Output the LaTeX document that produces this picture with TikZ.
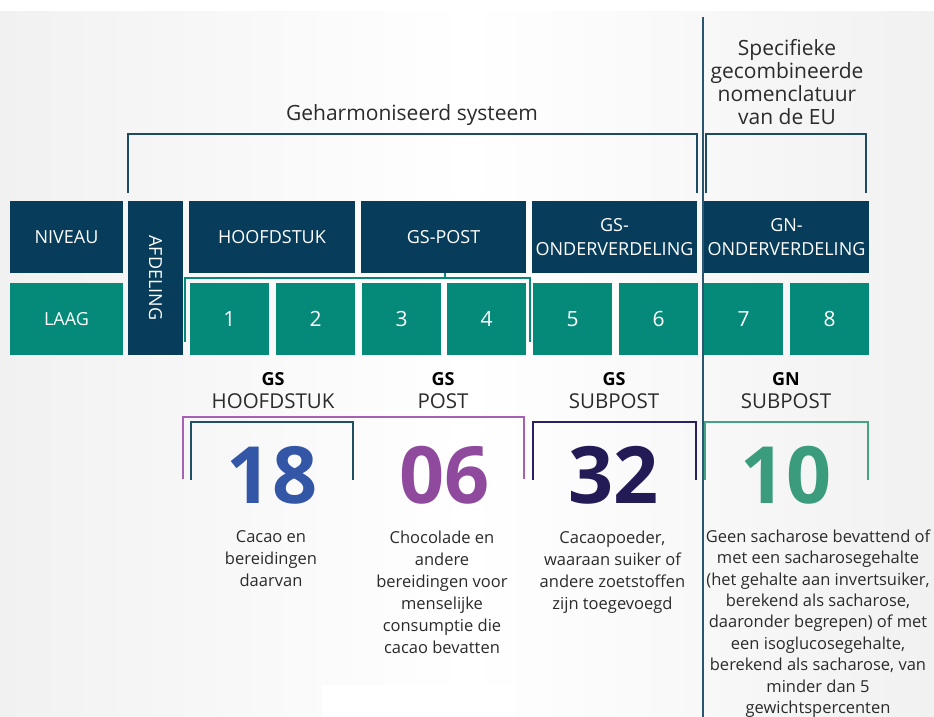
\documentclass[tikz,border=0pt]{standalone}
\usepackage{fontspec}
\setmainfont{Open Sans}
\definecolor{navy}{HTML}{073C5A}
\definecolor{teal}{HTML}{058A7A}
\definecolor{bgl}{HTML}{F1F1F1}
\definecolor{txt}{HTML}{2B2B2B}
\definecolor{divc}{HTML}{2B5670}
\definecolor{brk}{HTML}{1F4A63}
\definecolor{purp}{HTML}{A660B4}
\definecolor{dtl}{HTML}{1F5066}
\definecolor{indg}{HTML}{2A2160}
\definecolor{grn}{HTML}{45A385}
\definecolor{nA}{HTML}{3456A6}
\definecolor{nB}{HTML}{8F4A9D}
\definecolor{nC}{HTML}{221B56}
\definecolor{nD}{HTML}{3A9B7D}
\begin{document}
\begin{tikzpicture}[x=1pt,y=-1pt,
  cell/.style={minimum height=72pt, inner sep=0pt, text=white, align=center,
    font=\fontsize{18}{24}\selectfont},
  navybox/.style={cell, fill=navy},
  tealbox/.style={cell, fill=teal},
  numbox/.style={tealbox, minimum width=79pt, font=\fontsize{21}{24}\selectfont},
  gslab/.style={inner sep=0pt, font=\fontsize{18}{20}\selectfont\bfseries, text=black},
  kindlab/.style={inner sep=0pt, font=\fontsize{20.5}{24}\selectfont, text=txt},
  bignum/.style={inner sep=0pt, font=\fontsize{79}{82}\selectfont\bfseries},
  desc/.style={inner sep=0pt, anchor=north, align=center, text=txt,
    font=\fontsize{16.5}{22}\selectfont},
  headtxt/.style={inner sep=0pt, align=center, text=txt,
    font=\fontsize{21}{23}\selectfont},
  brack/.style={line width=2.5pt}
]
\useasboundingbox (0,0) rectangle (934,717);
\fill[white] (0,0) rectangle (934,717);
\shade[left color=bgl, right color=bgl, middle color=white] (0,12) rectangle (934,717);
\fill[white] (322,685) rectangle (515,717);

% headings
\node[headtxt, anchor=base] (hs) at (412,120) {Geharmoniseerd systeem};
\node[headtxt, anchor=north] (gn) at (787,39) {Specifieke\\gecombineerde\\nomenclatuur\\van de EU};

% top brackets
\draw[brack, brk] (128,193) -- (128,134) -- (697,134) -- (697,193);
\draw[brack, brk] (706,193) -- (706,134) -- (866,134) -- (866,193);

% row 1
\node[navybox, minimum width=113pt] (niveau) at (66.5,237) {NIVEAU};
\node[navybox, minimum width=55pt, minimum height=154pt] (afd) at (155.5,278) {};
\node[text=white, rotate=-90, inner sep=0pt, font=\fontsize{18}{20}\selectfont] (afdt) at (afd.center) {AFDELING};
\node[navybox, minimum width=166pt] (hfd) at (272,237) {HOOFDSTUK};
\node[navybox, minimum width=165pt] (gspost) at (443.5,237) {GS-POST};
\node[navybox, minimum width=165pt] (gsond) at (614.5,237) {GS-\\ONDERVERDELING};
\node[navybox, minimum width=165pt] (gnond) at (786.5,237) {GN-\\ONDERVERDELING};

% row 2
\node[tealbox, minimum width=113pt] (laag) at (66.5,319) {LAAG};
\node[numbox] (n1) at (229.5,319) {1};
\node[numbox] (n2) at (315.5,319) {2};
\node[numbox] (n3) at (401.5,319) {3};
\node[numbox] (n4) at (486.5,319) {4};
\node[numbox] (n5) at (572.5,319) {5};
\node[numbox] (n6) at (658.5,319) {6};
\node[numbox] (n7) at (743.5,319) {7};
\node[numbox] (n8) at (829.5,319) {8};

% teal bracket over 1-4
\draw[line width=2pt, teal] (185,342) -- (185,278) -- (530,278) -- (530,342);
\draw[line width=2pt, teal] (445,273) -- (445,278);

% divider
\draw[line width=2.5pt, divc] (703,17) -- (703,717);

% labels
\node[gslab] (g1) at (273,379) {GS};
\node[kindlab] (k1) at (273,401) {HOOFDSTUK};
\node[gslab] (g2) at (443,379) {GS};
\node[kindlab] (k2) at (443,401) {POST};
\node[gslab] (g3) at (614,379) {GS};
\node[kindlab] (k3) at (614,401) {SUBPOST};
\node[gslab] (g4) at (786,379) {GN};
\node[kindlab] (k4) at (786,401) {SUBPOST};

% number brackets
\draw[brack, purp] (183,479) -- (183,417) -- (524,417) -- (524,479);
\draw[brack, dtl] (191,480) -- (191,422) -- (353,422) -- (353,480);
\draw[brack, indg] (533,480) -- (533,422) -- (696,422) -- (696,480);
\draw[brack, grn] (705,480) -- (705,422) -- (868,422) -- (868,480);

% big numbers
\node[bignum, text=nA] (b1) at (272,475.5) {18};
\node[bignum, text=nB] (b2) at (444.5,475.5) {06};
\node[bignum, text=nC] (b3) at (613.5,475.5) {32};
\node[bignum, text=nD] (b4) at (786,475.5) {10};

% descriptions
\node[desc] (d1) at (271,530.5) {Cacao en\\bereidingen\\daarvan};
\node[desc] (d2) at (442,530.5) {Chocolade en\\andere\\bereidingen voor\\menselijke\\consumptie die\\cacao bevatten};
\node[desc] (d3) at (612.5,530.5) {Cacaopoeder,\\waaraan suiker of\\andere zoetstoffen\\zijn toegevoegd};
\node[desc, font=\fontsize{16.5}{21.4}\selectfont] (d4) at (818,529.5) {Geen sacharose bevattend of\\met een sacharosegehalte\\(het gehalte aan invertsuiker,\\berekend als sacharose,\\daaronder begrepen) of met\\een isoglucosegehalte,\\berekend als sacharose, van\\minder dan 5\\gewichtspercenten};
\end{tikzpicture}
\end{document}
